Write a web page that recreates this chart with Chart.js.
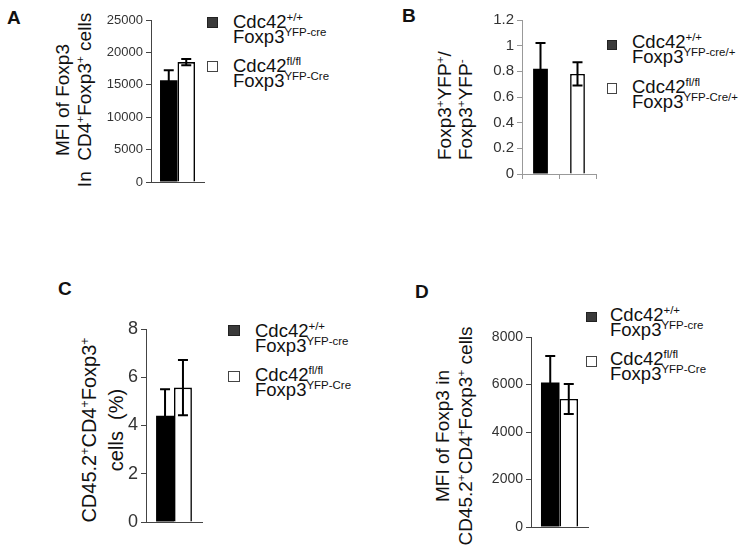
<!DOCTYPE html>
<html>
<head>
<meta charset="utf-8">
<script src="https://cdn.jsdelivr.net/npm/chart.js@4.4.1/dist/chart.umd.min.js"></script>
<style>
  body { margin: 0; background: #fff; width: 751px; height: 547px; overflow: hidden; position: relative;
         font-family: 'Liberation Sans', Arial, sans-serif; color: #111; }
  canvas { position: absolute; }
  .t { position: absolute; white-space: nowrap; }
  sup { font-size: 0.62em; line-height: 0; vertical-align: 0.6em; }
  .letter { font-weight: bold; font-size: 19px; line-height: 19px; }
  .leg { font-size: 18.5px; line-height: 15px; }
  .sq { position: absolute; box-sizing: border-box; }
  .sq.wt { background: #3a3a3a; border: 1px solid #222; }
  .sq.ko { background: #fff; border: 1.5px solid #444; }
  .ytitle { position: absolute; transform-origin: 0 0; transform: rotate(-90deg); white-space: nowrap; }
</style>
</head>
<body>

<div class="t letter" style="left:7px;top:8px">A</div>
<div class="t letter" style="left:402px;top:6px">B</div>
<div class="t letter" style="left:58px;top:279px">C</div>
<div class="t letter" style="left:415px;top:282px">D</div>

<!-- titres axe y -->
<div class="ytitle" style="left:52px;top:200px;width:200px;line-height:22px;font-size:19px;text-align:center">MFI of Foxp3<br>In&nbsp; CD4<sup>+</sup>Foxp3<sup>+</sup> cells</div>
<div class="ytitle" style="left:434px;top:160px;width:150px;line-height:21px;font-size:19px;text-align:left">Foxp3<sup>+</sup>YFP<sup>+</sup>/<br>Foxp3<sup>+</sup>YFP<sup>-</sup></div>
<div class="ytitle" style="left:76px;top:550px;width:240px;line-height:27px;font-size:20px;text-align:center">CD45.2<sup>+</sup>CD4<sup>+</sup>Foxp3<sup>+</sup><br>cells&nbsp; (%)</div>
<div class="ytitle" style="left:431px;top:566px;width:260px;line-height:23px;font-size:19px;text-align:center">MFI of Foxp3 in<br>CD45.2<sup>+</sup>CD4<sup>+</sup>Foxp3<sup>+</sup> cells</div>

<!-- legende A -->
<div class="sq wt" style="left:207px;top:17px;width:11px;height:11px"></div>
<div class="t leg" style="left:233px;top:14px">Cdc42<sup>+/+</sup><br>Foxp3<sup>YFP-cre</sup></div>
<div class="sq ko" style="left:207px;top:61px;width:11px;height:11px"></div>
<div class="t leg" style="left:233px;top:58px">Cdc42<sup>fl/fl</sup><br>Foxp3<sup>YFP-Cre</sup></div>

<!-- legende B -->
<div class="sq wt" style="left:607px;top:40px;width:10px;height:10px"></div>
<div class="t leg" style="left:632px;top:34px">Cdc42<sup>+/+</sup><br>Foxp3<sup>YFP-cre/+</sup></div>
<div class="sq ko" style="left:607px;top:83px;width:10px;height:11px"></div>
<div class="t leg" style="left:632px;top:79px">Cdc42<sup>fl/fl</sup><br>Foxp3<sup>YFP-Cre/+</sup></div>

<!-- legende C -->
<div class="sq wt" style="left:228px;top:325px;width:12px;height:11px"></div>
<div class="t leg" style="left:255px;top:323px">Cdc42<sup>+/+</sup><br>Foxp3<sup>YFP-cre</sup></div>
<div class="sq ko" style="left:228px;top:371px;width:12px;height:11px"></div>
<div class="t leg" style="left:255px;top:367px">Cdc42<sup>fl/fl</sup><br>Foxp3<sup>YFP-Cre</sup></div>

<!-- legende D -->
<div class="sq wt" style="left:586px;top:312px;width:11px;height:10px"></div>
<div class="t leg" style="left:610px;top:307px">Cdc42<sup>+/+</sup><br>Foxp3<sup>YFP-cre</sup></div>
<div class="sq ko" style="left:586px;top:356px;width:11px;height:11px"></div>
<div class="t leg" style="left:610px;top:351px">Cdc42<sup>fl/fl</sup><br>Foxp3<sup>YFP-Cre</sup></div>

<script>
const groups = ['Cdc42+/+ Foxp3YFP-cre', 'Cdc42fl/fl Foxp3YFP-Cre'];

// A: MFI Foxp3 in CD4+Foxp3+
const mfiFoxp3 = [15700, 18500];
const mfiFoxp3Err = [1550, 500];
// B: Foxp3+YFP+ / Foxp3+YFP-
const yfpRatio = [0.82, 0.78];
const yfpRatioErr = [0.20, 0.09];
// C: % CD45.2+CD4+Foxp3+
const cd452Pct = [4.4, 5.57];
const cd452PctErr = [1.1, 1.15];
// D: MFI Foxp3 in CD45.2+CD4+Foxp3+
const mfiCd452 = [6080, 5390];
const mfiCd452Err = [1120, 630];

const ticksA = [0, 5000, 10000, 15000, 20000, 25000];
const ticksB = [0, 0.2, 0.4, 0.6, 0.8, 1, 1.2];
const ticksC = [0, 2, 4, 6, 8];
const ticksD = [0, 2000, 4000, 6000, 8000];

// barres d'erreur (pas dispo dans Chart.js)
const errorBars = {
  id: 'errorBars',
  afterDatasetsDraw(chart) {
    const ctx = chart.ctx;
    const y = chart.scales.y;
    chart.data.datasets.forEach((ds, i) => {
      chart.getDatasetMeta(i).data.forEach((bar, j) => {
        const v = ds.data[j];
        if (v == null) return;
        const top = y.getPixelForValue(v + ds.err[j]);
        const bot = y.getPixelForValue(v - ds.err[j]);
        ctx.save();
        ctx.strokeStyle = '#000';
        ctx.lineWidth = 2;
        ctx.beginPath();
        ctx.moveTo(bar.x, top); ctx.lineTo(bar.x, bot);
        ctx.moveTo(bar.x - 5, top); ctx.lineTo(bar.x + 5, top);
        ctx.moveTo(bar.x - 5, bot); ctx.lineTo(bar.x + 5, bot);
        ctx.stroke();
        ctx.restore();
      });
    });
  }
};

function creaPannello(p) {
  const padL = 60, padT = 14, padR = 4, padB = 16;
  const cv = document.createElement('canvas');
  cv.width = p.area[2] - p.area[0] + padL + padR;
  cv.height = p.area[3] - p.area[1] + padT + padB;
  cv.style.left = (p.area[0] - padL) + 'px';
  cv.style.top = (p.area[1] - padT) + 'px';
  document.body.appendChild(cv);

  const datasets = groups.map((g, i) => ({
    label: g,
    data: p.split ? p.values.map((v, j) => j === i ? v : null) : [p.values[i]],
    err: p.split ? p.errors.map((e, j) => j === i ? e : null) : [p.errors[i]],
    backgroundColor: i === 0 ? '#000' : '#fff',
    borderColor: '#000',
    borderWidth: i === 0 ? 0 : 1.6,
    barPercentage: p.barPct,
    categoryPercentage: p.catPct,
    skipNull: true
  }));

  new Chart(cv, {
    type: 'bar',
    data: { labels: p.split ? ['', ''] : [''], datasets },
    options: {
      responsive: false,
      animation: false,
      devicePixelRatio: 1,
      layout: { padding: { left: 0, top: padT, right: padR, bottom: 0 } },
      plugins: { legend: { display: false }, tooltip: { enabled: false } },
      scales: {
        x: {
          offset: true,
          border: { display: true, color: p.axisColor, width: 1 },
          grid: { display: !!p.split, drawOnChartArea: false, drawTicks: true, tickLength: 5, color: p.axisColor, offset: true },
          ticks: { display: false },
          afterFit: s => { s.height = padB; }
        },
        y: {
          min: 0,
          max: p.ticks[p.ticks.length - 1],
          afterBuildTicks: s => { s.ticks = p.ticks.map(v => ({ value: v })); },
          border: { display: true, color: p.axisColor, width: 1 },
          grid: { drawOnChartArea: false, drawTicks: true, tickLength: 5, color: p.axisColor },
          ticks: { color: p.tickColor, font: p.tickFont, padding: 3, callback: v => String(v) },
          afterFit: s => { s.width = padL; }
        }
      }
    },
    plugins: [errorBars]
  });
}

creaPannello({ area: [151, 20, 204, 182], values: mfiFoxp3, errors: mfiFoxp3Err, ticks: ticksA,
  catPct: 0.66, barPct: 1, axisColor: '#444', tickColor: '#333',
  tickFont: { family: 'Liberation Sans', size: 13 } });

creaPannello({ area: [522, 20, 596, 174], values: yfpRatio, errors: yfpRatioErr, ticks: ticksB, split: true,
  catPct: 1, barPct: 0.4, axisColor: '#999', tickColor: '#333',
  tickFont: { family: 'Liberation Sans', size: 15 } });

creaPannello({ area: [146, 329, 202, 522], values: cd452Pct, errors: cd452PctErr, ticks: ticksC,
  catPct: 0.64, barPct: 1, axisColor: '#444', tickColor: '#333',
  tickFont: { family: "'Liberation Sans Narrow', 'Liberation Sans'", size: 18 } });

creaPannello({ area: [531, 337, 588, 527], values: mfiCd452, errors: mfiCd452Err, ticks: ticksD,
  catPct: 0.65, barPct: 1, axisColor: '#444', tickColor: '#333',
  tickFont: { family: 'Liberation Sans', size: 14 } });
</script>
</body>
</html>
